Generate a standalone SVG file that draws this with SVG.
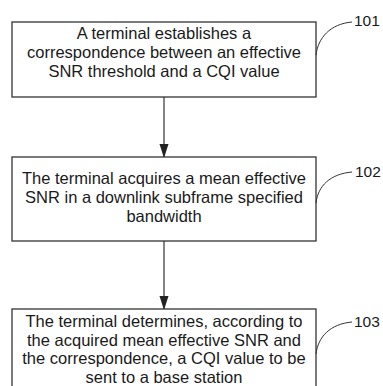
<svg xmlns="http://www.w3.org/2000/svg" width="383" height="386" viewBox="0 0 383 386">
<defs>
<style>
.box{fill:#fff;stroke:#333;stroke-width:1.3}
.t{font-family:"Liberation Sans",Arial,sans-serif;font-size:16.5px;fill:#1a1a1a;text-anchor:middle}
.lbl{font-family:"Liberation Sans",Arial,sans-serif;font-size:15.5px;fill:#1a1a1a}
.conn{stroke:#333;stroke-width:1.2;fill:none}
.lead{stroke:#333;stroke-width:1;fill:none}
</style>
<marker id="arr" markerWidth="14" markerHeight="10" refX="13" refY="4.5" orient="auto" markerUnits="userSpaceOnUse" viewBox="0 0 14 9">
<path d="M0,0 L14,4.5 L0,9 Z" fill="#222"/>
</marker>
</defs>
<rect width="383" height="386" fill="#fff"/>
<g id="connectors">
<line class="conn" x1="164" y1="97" x2="164" y2="157" marker-end="url(#arr)"/>
<line class="conn" x1="164" y1="241" x2="164" y2="309" marker-end="url(#arr)"/>
</g>
<g id="node101">
<rect class="box" x="12" y="22" width="304" height="75"/>
<text class="t" x="164" y="39">A terminal establishes a</text>
<text class="t" x="164" y="58">correspondence between an effective</text>
<text class="t" x="164" y="77">SNR threshold and a CQI value</text>
<path class="lead" d="M316,55 C318,38 330,24 352,22"/>
<text class="lbl" x="354" y="26">101</text>
</g>
<g id="node102">
<rect class="box" x="12" y="157" width="304" height="84"/>
<text class="t" x="164" y="184">The terminal acquires a mean effective</text>
<text class="t" x="164" y="203">SNR in a downlink subframe specified</text>
<text class="t" x="164" y="222">bandwidth</text>
<path class="lead" d="M316,203 C318,186 330,174 352,172"/>
<text class="lbl" x="355" y="177">102</text>
</g>
<g id="node103">
<rect class="box" x="12" y="309" width="304" height="90"/>
<text class="t" x="164" y="327">The terminal determines, according to</text>
<text class="t" x="164" y="345.7">the acquired mean effective SNR and</text>
<text class="t" x="164" y="364.4">the correspondence, a CQI value to be</text>
<text class="t" x="164" y="383">sent to a base station</text>
<path class="lead" d="M316,354 C318,337 330,324 352,322"/>
<text class="lbl" x="354" y="327">103</text>
</g>
</svg>
